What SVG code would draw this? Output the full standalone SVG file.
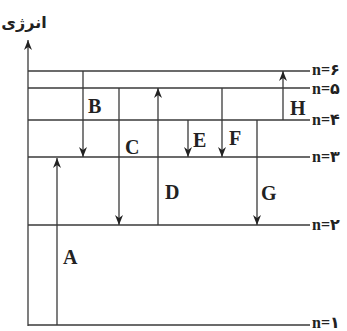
<svg xmlns="http://www.w3.org/2000/svg" width="347" height="331" viewBox="0 0 347 331">
<style>
.lvl{stroke:#3a3a3a;stroke-width:1.3;fill:none}
.arr{stroke:#3a3a3a;stroke-width:1.3;fill:none;marker-end:url(#ah)}
.lab{font-family:"Liberation Serif","Times New Roman",serif;font-weight:bold;font-size:20px;fill:#222}
.nl{font-family:"Liberation Serif","DejaVu Sans",serif;font-weight:bold;font-size:16px;fill:#222}
.ttl{font-family:"DejaVu Sans","Noto Sans",sans-serif;font-weight:bold;font-size:16px;fill:#222}
</style>
<defs>
<marker id="ah" viewBox="0 0 10 8" refX="10" refY="4" markerWidth="10" markerHeight="8" markerUnits="userSpaceOnUse" orient="auto">
<path d="M0,0 L10,4 L0,8 L3,4 z" fill="#222"/>
</marker>
</defs>
<g id="axis">
<line class="arr" x1="28" y1="326" x2="28" y2="40"/>
<text class="ttl" x="24" y="28" text-anchor="middle">انرژی</text>
</g>
<g id="levels">
<g id="n6"><line class="lvl" x1="28" y1="71" x2="310" y2="71"/><text class="nl" x="312" y="75">n=۶</text></g>
<g id="n5"><line class="lvl" x1="28" y1="88" x2="310" y2="88"/><text class="nl" x="312" y="94">n=۵</text></g>
<g id="n4"><line class="lvl" x1="28" y1="120" x2="310" y2="120"/><text class="nl" x="312" y="125">n=۴</text></g>
<g id="n3"><line class="lvl" x1="28" y1="157" x2="310" y2="157"/><text class="nl" x="312" y="162">n=۳</text></g>
<g id="n2"><line class="lvl" x1="28" y1="225" x2="310" y2="225"/><text class="nl" x="312" y="230">n=۲</text></g>
<g id="n1"><line class="lvl" x1="28" y1="325" x2="310" y2="325"/><text class="nl" x="312" y="328">n=۱</text></g>
</g>
<g id="connectors">
<line class="arr" x1="57" y1="325" x2="57" y2="158"/>
<line class="arr" x1="83" y1="71" x2="83" y2="157"/>
<line class="arr" x1="119" y1="88" x2="119" y2="225"/>
<line class="arr" x1="158" y1="225" x2="158" y2="88"/>
<line class="arr" x1="188" y1="120" x2="188" y2="157"/>
<line class="arr" x1="222" y1="88" x2="222" y2="157"/>
<line class="arr" x1="257" y1="120" x2="257" y2="225"/>
<line class="arr" x1="283" y1="120" x2="283" y2="71"/>
</g>
<g id="labels">
<text class="lab" x="63" y="264">A</text>
<text class="lab" x="88" y="113">B</text>
<text class="lab" x="125" y="154">C</text>
<text class="lab" x="165" y="199">D</text>
<text class="lab" x="193" y="147">E</text>
<text class="lab" x="229" y="145">F</text>
<text class="lab" x="261" y="200">G</text>
<text class="lab" x="290" y="115">H</text>
</g>
</svg>
